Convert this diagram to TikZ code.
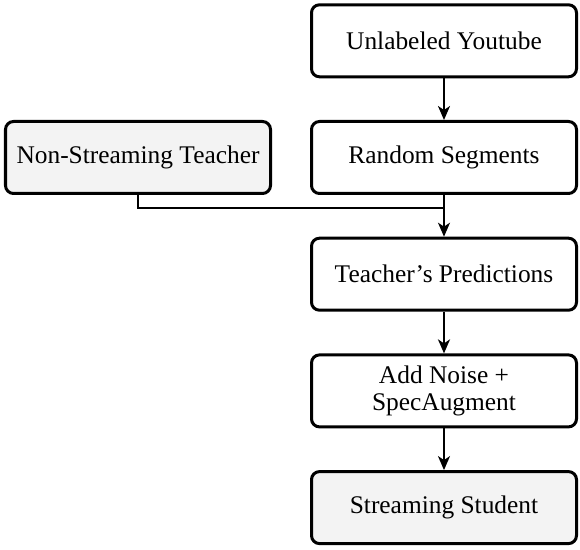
\documentclass[tikz,border=0pt]{standalone}
\usepackage{fontspec}
\setmainfont{Liberation Serif}
\usetikzlibrary{arrows.meta,positioning,calc}
\definecolor{boxgray}{RGB}{243,243,243}

\begin{document}
\begin{tikzpicture}[
  stage/.style={draw, line width=1.5pt, rounded corners=4pt, minimum width=132.5pt,
                minimum height=36pt, align=center, font=\fontsize{12.7}{13.6}\selectfont},
  model/.style={stage, fill=boxgray},
  flow/.style={line width=1pt, -{Stealth[length=7pt,width=6pt,inset=2pt]}}
]
\useasboundingbox (0,0) rectangle (290pt,-275pt);
% pipeline on the right
\node[stage] (uyt) at (222pt,-20.4pt) {Unlabeled Youtube};
\node[stage, below=20.85pt of uyt] (segs) {Random Segments};
\node[stage, below=20.85pt of segs] (pred) {Teacher's Predictions};
\node[stage, below=20.85pt of pred] (noise) {Add Noise +\\SpecAugment};
\node[model, below=20.85pt of noise] (stud) {Streaming Student};
% teacher on the left
\node[model, left=19pt of segs] (nst) {Non-Streaming Teacher};
\coordinate (join) at ($(segs.south)!0.31!(pred.north)$);
% connectors
\draw[flow] (uyt) -- (segs);
\draw[flow] (segs) -- (pred);
\draw[line width=1pt] (nst.south) |- (join);
\draw[flow] (pred) -- (noise);
\draw[flow] (noise) -- (stud);
\end{tikzpicture}
\end{document}
